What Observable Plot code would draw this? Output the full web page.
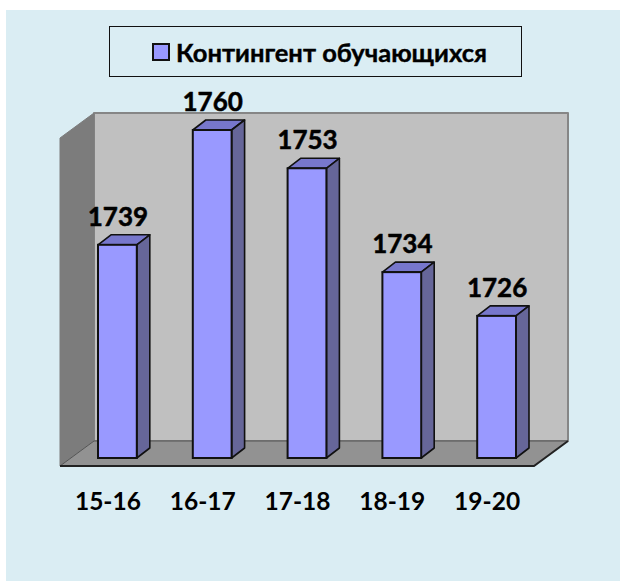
<!DOCTYPE html>
<html>
<head>
<meta charset="utf-8">
<script src="https://cdn.jsdelivr.net/npm/d3@7"></script>
<script src="https://cdn.jsdelivr.net/npm/@observablehq/plot@0.6"></script>
<style>
html,body{margin:0;padding:0;background:#fff;}
#stage{position:relative;width:620px;height:581px;overflow:hidden;}
#panel{position:absolute;left:6px;top:10px;right:0;bottom:0;background:#daedf3;}
#chart{position:absolute;left:0;top:0;}
#legend{position:absolute;left:109px;top:26px;width:403px;padding-left:8px;height:49px;border:1px solid #111;
display:flex;align-items:center;justify-content:center;font:700 25.5px Lato,"Noto Sans",sans-serif;color:#000;gap:6px;-webkit-text-stroke:0.4px #000;}
#legend i{display:inline-block;box-sizing:border-box;width:18px;height:18px;background:#9999ff;border:2px solid #111;}
svg{overflow:visible;}
</style>
</head>
<body>
<div id="stage">
<div id="panel"></div>
<div id="chart"></div>
<div id="legend"><i></i><span>Контингент обучающихся</span></div>
</div>
<script>
const years = ["15-16", "16-17", "17-18", "18-19", "19-20"];
const values = [1739, 1760, 1753, 1734, 1726];
const table = years.map((year, i) => ({year, value: values[i]}));

const wallDx = 34, wallDy = 25, barDx = 10, barDy = 8, depthDx = 13, depthDy = 10, inset = 28;

function poly(g, pts, fill, stroke, sw) {
  g.append("polygon").attr("points", pts.map(p => p.join(",")).join(" "))
    .attr("fill", fill).attr("stroke", stroke).attr("stroke-width", sw).attr("stroke-linejoin", "round");
}

// back wall, side wall and floor, positioned from the scale ranges
const walls = (index, {x, y}) => {
  const g = d3.create("svg:g");
  const [x0, x1] = [x(years[0]), x(years[years.length - 1]) + x.bandwidth()];
  const [yb, yt] = [y(y.domain()[0]), y(y.domain()[1])];
  poly(g, [[x0 + wallDx, yt - wallDy], [x1 + wallDx, yt - wallDy], [x1 + wallDx, yb - wallDy], [x0 + wallDx, yb - wallDy]], "#c0c0c0", "#868686", 2);
  poly(g, [[x0, yt], [x0 + wallDx, yt - wallDy], [x0 + wallDx, yb - wallDy], [x0, yb]], "#7c7c7c", "#7c7c7c", 1);
  poly(g, [[x0, yb], [x0 + wallDx, yb - wallDy], [x1 + wallDx, yb - wallDy], [x1, yb]], "#929292", "none", 0);
  g.append("path").attr("d", `M${x0},${yb}L${x0 + wallDx},${yb - wallDy}H${x1 + wallDx}`).attr("fill", "none").attr("stroke", "#555").attr("stroke-width", 1);
  g.append("path").attr("d", `M${x0},${yb}H${x1}L${x1 + wallDx},${yb - wallDy}`).attr("fill", "none").attr("stroke", "#222").attr("stroke-width", 2);
  return g.node();
};

// top and side faces of the bars, positioned from the same scales
const barFaces = (index, {x, y}) => {
  const g = d3.create("svg:g");
  for (const d of table) {
    const a = x(d.year) + inset + barDx, b = x(d.year) + x.bandwidth() - inset + barDx;
    const t = y(d.value) - barDy, f = y(y.domain()[0]) - barDy;
    poly(g, [[a, t], [b, t], [b + depthDx, t - depthDy], [a + depthDx, t - depthDy]], "#7777cc", "#111", 1.6);
    poly(g, [[b, t], [b + depthDx, t - depthDy], [b + depthDx, f - depthDy], [b, f]], "#666699", "#111", 1.6);
  }
  return g.node();
};

const chart = Plot.plot({
  width: 620,
  height: 581,
  marginLeft: 60,
  marginRight: 86,
  marginTop: 138,
  marginBottom: 115,
  style: {background: "transparent", overflow: "visible"},
  x: {domain: years, padding: 0, round: false, label: null},
  y: {domain: [1700, 1760], label: null, axis: null},
  marks: [
    walls,
    barFaces,
    Plot.barY(table, {x: "year", y1: () => 1700, y2: "value", fill: "#9999ff", stroke: "#111", strokeWidth: 2,
      insetLeft: inset, insetRight: inset, dx: barDx, dy: -barDy}),
    Plot.text(table, {x: "year", y: "value", text: d => String(d.value), dx: barDx, dy: -barDy - 28,
      fontSize: 26, fontWeight: 700, fontFamily: "Lato, 'Noto Sans', sans-serif", fill: "#000", stroke: "#000", strokeWidth: 0.5}),
    Plot.axisX({tickSize: 0, tickPadding: 26, fontSize: 24.5, fontWeight: 700, fontFamily: "Lato, 'Noto Sans', sans-serif", fill: "#000", stroke: "#000", strokeWidth: 0.5, label: null})
  ]
});
document.getElementById("chart").appendChild(chart);
</script>
</body>
</html>
